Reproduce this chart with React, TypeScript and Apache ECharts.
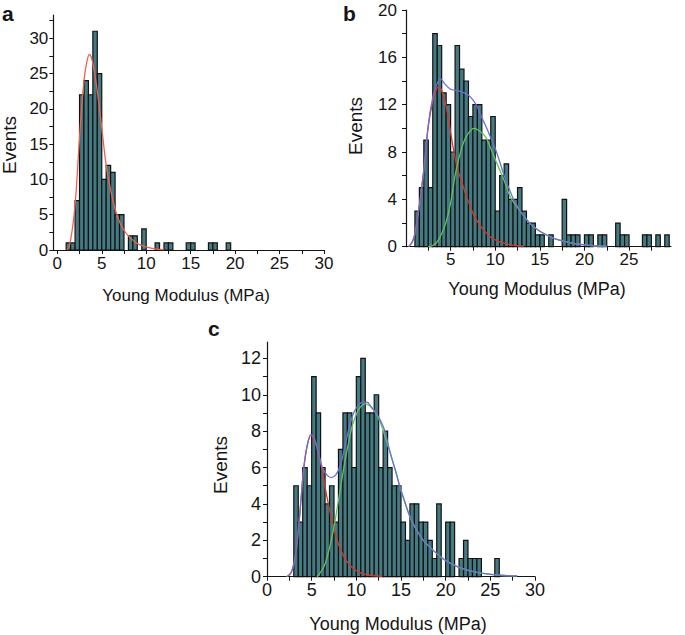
import React, { useEffect, useRef } from "react";
import * as echarts from "echarts";

// ---------- data ----------
const BIN_WIDTH = 0.5;

// Panel a: bins start at 1.0 MPa, width 0.5
const binStartA = 1.0;
const countsA = [1, 1, 7, 22, 24, 22, 31, 25, 10, 12, 11, 5, 5, 0, 2, 2, 0, 3, 0, 0, 1, 0, 1, 1, 0, 0, 0, 1, 1, 0, 0, 0, 1, 1, 0, 0, 1];

// Panel b
const binStartB = 1.0;
const countsB = [3, 5, 9, 5, 18, 17, 13, 12, 8, 17, 15, 14, 11, 12, 12, 9, 9, 11, 3, 6, 7, 4, 4, 5, 3, 2, 2, 1, 1, 0, 1, 0, 0, 4, 1, 1, 1, 0, 1, 1, 0, 1, 1, 0, 0, 2, 1, 1, 0, 0, 0, 1, 1, 0, 1, 0, 1];

// Panel c
const binStartC = 3.0;
const countsC = [5, 3, 6, 5, 11, 9, 6, 4, 5, 3, 7, 9, 9, 6, 11, 12, 9, 9, 10, 6, 8, 6, 5, 5, 3, 2, 4, 4, 3, 3, 2, 1, 4, 0, 3, 3, 0, 1, 2, 1, 1, 1, 0, 0, 0, 1];

// fitted curves [x, y]
const fitA = [[1.1, 0], [1.4, 0.8], [1.8, 4], [2.1, 8], [2.4, 14], [2.7, 19.5], [3.0, 24], [3.3, 26.5], [3.6, 27.7], [3.9, 27], [4.2, 25], [4.5, 22.5], [5.0, 17.3], [5.5, 12], [6.0, 8.5], [6.5, 5.8], [7.0, 4.0], [7.5, 2.8], [8.0, 2.0], [8.5, 1.4], [9.0, 0.9], [10.0, 0.45], [11.0, 0.15], [12.0, 0.05]];

const fitBSum = [[0.3, 0], [0.7, 0.4], [1.0, 1.1], [1.5, 3.5], [2.0, 6.5], [2.5, 10.3], [3.0, 12.6], [3.5, 13.8], [3.85, 14.2], [4.3, 13.8], [5.0, 13.3], [5.7, 13.2], [6.5, 13.0], [7.0, 12.8], [7.5, 12.4], [8.0, 11.8], [8.5, 10.9], [9.0, 10.1], [9.5, 9.2], [10.0, 8.3], [10.5, 7.2], [11.0, 6.0], [11.5, 5.0], [12.0, 4.1], [12.5, 3.4], [13.0, 2.8], [13.5, 2.3], [14.0, 1.9], [15.0, 1.3], [16.0, 0.9], [17.0, 0.6], [18.0, 0.4], [19.0, 0.25], [20.0, 0.15], [21.0, 0.08], [22.5, 0.02]];
const fitBLow = [[0.3, 0], [0.7, 0.4], [1.0, 1.1], [1.5, 3.5], [2.0, 6.5], [2.5, 10.2], [3.0, 12.3], [3.4, 13.3], [3.7, 13.5], [4.0, 13.2], [4.4, 12.2], [4.8, 10.6], [5.3, 8.3], [5.8, 6.5], [6.2, 5.6], [6.7, 4.4], [7.2, 3.4], [7.7, 2.5], [8.2, 1.9], [8.7, 1.4], [9.5, 0.8], [10.5, 0.4], [11.5, 0.2], [12.5, 0.08], [13.2, 0.05]];
const fitBHigh = [[2.5, 0], [3.0, 0.1], [3.5, 0.4], [4.0, 1.1], [4.5, 2.1], [5.0, 3.7], [5.5, 6.0], [6.0, 7.7], [6.5, 8.9], [7.0, 9.6], [7.6, 10.0], [8.2, 9.8], [8.9, 9.3], [9.5, 8.3], [10.2, 7.0], [11.0, 5.6], [11.7, 4.2], [12.5, 3.3], [13.2, 2.6], [14.0, 1.9], [15.0, 1.3], [16.0, 0.9], [17.0, 0.6], [18.0, 0.4], [19.0, 0.25], [20.0, 0.15], [21.0, 0.08], [22.5, 0.02]];

const fitCSum = [[2.2, 0], [2.6, 0.15], [2.9, 0.5], [3.2, 1.2], [3.5, 2.5], [3.8, 4.2], [4.1, 5.9], [4.5, 7.2], [4.95, 7.8], [5.3, 7.6], [5.7, 6.9], [6.2, 6.0], [6.7, 5.6], [7.2, 5.45], [7.7, 5.6], [8.2, 6.1], [8.7, 7.1], [9.2, 8.2], [9.7, 9.0], [10.2, 9.4], [10.7, 9.6], [11.2, 9.6], [11.7, 9.3], [12.2, 9.0], [12.7, 8.6], [13.2, 8.0], [13.7, 7.0], [14.4, 5.8], [14.9, 4.9], [15.5, 4.0], [16.0, 3.3], [16.7, 2.6], [17.5, 2.0], [18.5, 1.5], [19.4, 1.1], [20.3, 0.8], [21.3, 0.55], [22.5, 0.35], [24.2, 0.18], [26.0, 0.08], [28.0, 0.04]];
const fitCLow = [[2.2, 0], [2.6, 0.15], [2.9, 0.5], [3.2, 1.2], [3.5, 2.5], [3.8, 4.2], [4.1, 5.9], [4.5, 7.2], [4.9, 7.8], [5.3, 7.5], [5.6, 7.1], [6.15, 5.9], [6.7, 4.4], [7.27, 3.1], [8.0, 1.8], [8.5, 1.2], [9.1, 0.73], [9.8, 0.4], [10.6, 0.18], [11.5, 0.08], [12.9, 0.02]];
const fitCHigh = [[5.6, 0], [6.0, 0.25], [6.5, 0.7], [7.0, 1.6], [7.45, 2.6], [7.8, 3.6], [8.2, 4.8], [8.6, 6.0], [9.1, 7.3], [9.5, 8.2], [9.9, 8.8], [10.4, 9.3], [11.0, 9.5], [11.5, 9.4], [11.9, 9.2], [12.4, 8.8], [12.9, 8.2], [13.4, 7.4], [13.9, 6.6], [14.4, 5.8], [14.9, 4.9], [15.5, 4.0], [16.0, 3.3], [16.7, 2.6], [17.5, 2.0], [18.5, 1.5], [19.4, 1.1], [20.3, 0.8], [21.3, 0.55], [22.5, 0.35], [24.2, 0.18], [26.0, 0.08], [28.0, 0.04]];

// tick labels
const xLabelsA = [0, 5, 10, 15, 20, 25, 30];
const xTicksA = [0, 2.5, 5, 7.5, 10, 12.5, 15, 17.5, 20, 22.5, 25, 27.5, 30];
const yLabelsA = [0, 5, 10, 15, 20, 25, 30];
const yTicksA = [0, 2.5, 5, 7.5, 10, 12.5, 15, 17.5, 20, 22.5, 25, 27.5, 30, 32.5];

const xLabelsB = [5, 10, 15, 20, 25];
const xTicksB = [2.5, 5, 7.5, 10, 12.5, 15, 17.5, 20, 22.5, 25, 27.5];
const yLabelsB = [0, 4, 8, 12, 16, 20];
const yTicksB = [0, 2, 4, 6, 8, 10, 12, 14, 16, 18, 20];

const xLabelsC = [0, 5, 10, 15, 20, 25, 30];
const xTicksC = [0, 2.5, 5, 7.5, 10, 12.5, 15, 17.5, 20, 22.5, 25, 27.5, 30];
const yLabelsC = [0, 2, 4, 6, 8, 10, 12];
const yTicksC = [0, 1, 2, 3, 4, 5, 6, 7, 8, 9, 10, 11, 12];

const AXIS_TITLE = "Young Modulus (MPa)";
const Y_TITLE = "Events";

// ---------- styles ----------
const FONT = "'Liberation Sans', Arial, Helvetica, sans-serif";
const INK = "#151515";
const BAR_FILL = "#467a82";
const BAR_EDGE = "#121212";
const RED_A = "#f0604c";
const RED = "#d8382c";
const GREEN = "#5cc45c";
const BLUE = "#6f6fd2";

function histData(start: number, counts: number[]) {
  return counts
    .map((c, i) => [start + i * BIN_WIDTH, start + (i + 1) * BIN_WIDTH, c])
    .filter((d) => d[2] > 0);
}

function xAxisCfg(gridIndex: number, min: number, max: number, labels: number[], ticks: number[], margin: number, fontSize: number) {
  return {
    type: "value",
    gridIndex,
    min,
    max,
    axisLine: { show: true, onZero: false, lineStyle: { color: INK, width: 1.2 } },
    axisTick: { show: true, length: 4, customValues: ticks, lineStyle: { color: INK, width: 1 } },
    axisLabel: { customValues: labels, margin, fontSize, color: INK, fontFamily: FONT },
    splitLine: { show: false },
  };
}

function yAxisCfg(gridIndex: number, max: number, labels: number[], ticks: number[], margin: number, fontSize: number) {
  return {
    type: "value",
    gridIndex,
    min: 0,
    max,
    axisLine: { show: true, onZero: false, lineStyle: { color: INK, width: 1.2 } },
    axisTick: { show: true, length: 4, customValues: ticks, lineStyle: { color: INK, width: 1 } },
    axisLabel: { customValues: labels, margin, fontSize, color: INK, fontFamily: FONT },
    splitLine: { show: false },
  };
}

function histSeries(idx: number, data: number[][]) {
  return {
    type: "custom",
    xAxisIndex: idx,
    yAxisIndex: idx,
    data,
    encode: { x: [0, 1], y: 2 },
    clip: false,
    z: 2,
    silent: true,
    renderItem: (params: any, api: any) => {
      const p0 = api.coord([api.value(0), api.value(2)]);
      const p1 = api.coord([api.value(1), 0]);
      return {
        type: "rect",
        shape: { x: p0[0], y: p0[1], width: p1[0] - p0[0], height: p1[1] - p0[1] },
        style: { fill: BAR_FILL, stroke: BAR_EDGE, lineWidth: 1.2 },
      };
    },
  };
}

function lineSeries(idx: number, data: number[][], color: string) {
  return {
    type: "line",
    xAxisIndex: idx,
    yAxisIndex: idx,
    data,
    smooth: 0.35,
    showSymbol: false,
    symbol: "none",
    silent: true,
    z: 3,
    lineStyle: { color, width: 1.3 },
  };
}

function txt(text: string, x: number, y: number, size: number, opts: any = {}) {
  return {
    type: "text",
    x,
    y,
    rotation: opts.rotation || 0,
    style: {
      text,
      fill: INK,
      font: `${opts.bold ? "bold " : ""}${size}px ${FONT}`,
      textAlign: opts.align || "center",
      textVerticalAlign: "middle",
    },
  };
}

export default function App() {
  const ref = useRef<HTMLDivElement>(null);

  useEffect(() => {
    if (!ref.current) return;
    const chart = echarts.init(ref.current, undefined, { renderer: "svg" });
    const option: any = {
      animation: false,
      backgroundColor: "#ffffff",
      grid: [
        { left: 53.3, top: 15, width: 270.7, height: 235, outerBoundsMode: "none" },
        { left: 406, top: 10, width: 265, height: 236.7, outerBoundsMode: "none" },
        { left: 267, top: 342, width: 268, height: 234.7, outerBoundsMode: "none" },
      ],
      xAxis: [
        xAxisCfg(0, -0.45, 30, xLabelsA, xTicksA, 5, 17),
        xAxisCfg(1, 0, 29.7, xLabelsB, xTicksB, 4, 17),
        xAxisCfg(2, 0, 30, xLabelsC, xTicksC, 4, 18),
      ],
      yAxis: [
        yAxisCfg(0, 33.3, yLabelsA, yTicksA, 5, 17),
        yAxisCfg(1, 20, yLabelsB, yTicksB, 9, 17),
        yAxisCfg(2, 12.9, yLabelsC, yTicksC, 6, 18),
      ],
      series: [
        histSeries(0, histData(binStartA, countsA)),
        lineSeries(0, fitA, RED_A),
        histSeries(1, histData(binStartB, countsB)),
        lineSeries(1, fitBLow, RED),
        lineSeries(1, fitBHigh, GREEN),
        lineSeries(1, fitBSum, BLUE),
        histSeries(2, histData(binStartC, countsC)),
        lineSeries(2, fitCLow, RED),
        lineSeries(2, fitCHigh, GREEN),
        lineSeries(2, fitCSum, BLUE),
      ],
      graphic: [
        txt("a", 2, 13, 21, { bold: true, align: "left" }),
        txt("b", 343, 13, 21, { bold: true, align: "left" }),
        txt("c", 208, 328, 21, { bold: true, align: "left" }),
        txt(Y_TITLE, 9, 145, 19, { rotation: Math.PI / 2 }),
        txt(Y_TITLE, 355, 126, 19, { rotation: Math.PI / 2 }),
        txt(Y_TITLE, 220, 465, 19, { rotation: Math.PI / 2 }),
        txt(AXIS_TITLE, 186, 295, 17),
        txt(AXIS_TITLE, 537, 289, 18),
        txt(AXIS_TITLE, 398, 624, 18),
      ],
    };
    chart.setOption(option);
    return () => chart.dispose();
  }, []);

  return (
    <div
      ref={ref}
      style={{ position: "fixed", left: 0, top: 0, width: 685, height: 635, background: "#fff" }}
    />
  );
}
